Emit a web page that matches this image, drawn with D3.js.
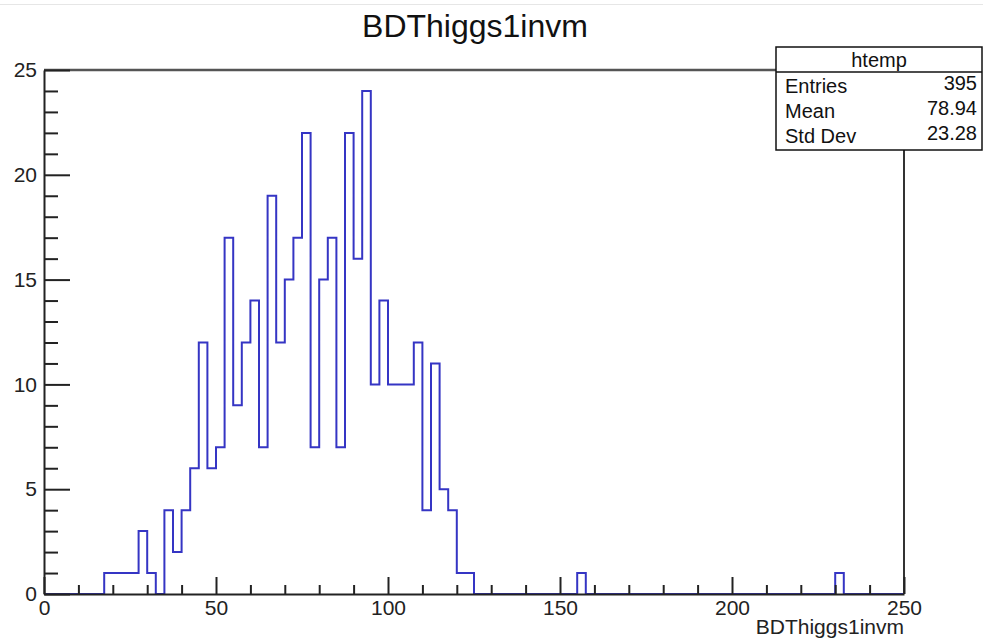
<!DOCTYPE html>
<html>
<head>
<meta charset="utf-8">
<script src="https://cdn.jsdelivr.net/npm/d3@7"></script>
<style>
  html, body { margin: 0; padding: 0; background: #fff; }
  svg { display: block; font-family: "Liberation Sans", Arial, Helvetica, sans-serif; }
</style>
</head>
<body>
<svg id="hist" width="983" height="644"></svg>
<script>
const MARGINTOP    = 70;
const MARGINRIGHT  = 79;
const MARGINBOTTOM = 50;
const MARGINLEFT   = 44;

const title = "BDThiggs1invm";
const xTitle = "BDThiggs1invm";
const histName = "htemp";
const xDomain = [0, 250];
const yDomain = [0, 25];
const binWidth = 2.5;
// one count per bin, 100 bins of 2.5 from 0 to 250
const counts = [
  0, 0, 0, 0, 0, 0, 0, 1, 1, 1,
  1, 3, 1, 0, 4, 2, 4, 6, 12, 6,
  7, 17, 9, 12, 14, 7, 19, 12, 15, 17,
  22, 7, 15, 17, 7, 22, 16, 24, 10, 14,
  10, 10, 10, 12, 4, 11, 5, 4, 1, 1,
  0, 0, 0, 0, 0, 0, 0, 0, 0, 0,
  0, 0, 1, 0, 0, 0, 0, 0, 0, 0,
  0, 0, 0, 0, 0, 0, 0, 0, 0, 0,
  0, 0, 0, 0, 0, 0, 0, 0, 0, 0,
  0, 0, 1, 0, 0, 0, 0, 0, 0, 0
];
const xMajor = [0, 50, 100, 150, 200, 250];
const yMajor = [0, 5, 10, 15, 20, 25];
const statLabels = ["Entries", "Mean", "Std Dev"];
const statValues = ["395", "78.94", "23.28"];

const W = 983, H = 644;
const FONT = "'Liberation Sans', Arial, Helvetica, sans-serif";
const vis = d3.select("#hist");

const xRange = d3.scaleLinear().domain(xDomain).range([MARGINLEFT, W - MARGINRIGHT]);
const yRange = d3.scaleLinear().domain(yDomain).range([H - MARGINBOTTOM, MARGINTOP]);

// faint window edge at the top
vis.append("line")
  .attr("x1", 0).attr("x2", W).attr("y1", 4.5).attr("y2", 4.5)
  .attr("stroke", "#e6e6e6").attr("stroke-width", 1);

// title
vis.append("text")
  .attr("x", 475).attr("y", 37)
  .attr("text-anchor", "middle")
  .attr("font-size", 32)
  .attr("fill", "#111")
  .text(title);

// histogram outline (steps)
const pts = [];
counts.forEach(function(c, i){
  const x0 = xDomain[0] + i * binWidth;
  pts.push([x0, c]);
  pts.push([x0 + binWidth, c]);
});
const stepLine = d3.line()
  .x(d => xRange(d[0]))
  .y(d => yRange(d[1]));
vis.append("path")
  .attr("d", stepLine(pts))
  .attr("fill", "none")
  .attr("stroke", "#3535c4")
  .attr("stroke-width", 2)
  .attr("stroke-linejoin", "miter");

// frame top & right
vis.append("line")
  .attr("x1", xRange(0)).attr("x2", xRange(250))
  .attr("y1", yRange(25)).attr("y2", yRange(25))
  .attr("stroke", "#555").attr("stroke-width", 2.5);
vis.append("line")
  .attr("x1", xRange(250)).attr("x2", xRange(250))
  .attr("y1", yRange(25)).attr("y2", yRange(0))
  .attr("stroke", "#333").attr("stroke-width", 2);

// y axis: minor ticks then major
const yMinor = d3.range(0, 26, 1).filter(v => v % 5 !== 0);
vis.append("g")
  .attr("transform", "translate(" + MARGINLEFT + ",0)")
  .call(d3.axisLeft(yRange).tickValues(yMinor).tickSizeInner(-14).tickSizeOuter(0).tickFormat(""))
  .call(g => g.select(".domain").remove());
const yAxisG = vis.append("g")
  .attr("transform", "translate(" + MARGINLEFT + ",0)")
  .call(d3.axisLeft(yRange).tickValues(yMajor).tickSizeInner(-26).tickSizeOuter(0).tickPadding(7));
yAxisG.selectAll("text").attr("font-size", 21).attr("fill", "#222")
  .attr("font-family", FONT);

// x axis: minor ticks then major
const xMinor = d3.range(0, 251, 10).filter(v => v % 50 !== 0);
vis.append("g")
  .attr("transform", "translate(0," + (H - MARGINBOTTOM) + ")")
  .call(d3.axisBottom(xRange).tickValues(xMinor).tickSizeInner(-9).tickSizeOuter(0).tickFormat(""))
  .call(g => g.select(".domain").remove());
const xAxisG = vis.append("g")
  .attr("transform", "translate(0," + (H - MARGINBOTTOM) + ")")
  .call(d3.axisBottom(xRange).tickValues(xMajor).tickSizeInner(-17).tickSizeOuter(0).tickPadding(6));
xAxisG.selectAll("text").attr("font-size", 21).attr("fill", "#222")
  .attr("font-family", FONT);

vis.selectAll(".tick line").attr("stroke", "#222").attr("stroke-width", 2);
vis.selectAll(".domain").attr("stroke", "#222").attr("stroke-width", 2);

// x axis title
vis.append("text")
  .attr("x", xRange(250)).attr("y", 634)
  .attr("text-anchor", "end")
  .attr("font-size", 21)
  .attr("fill", "#222")
  .text(xTitle);

// stats box
const bx = 776, by = 47, bw = 206, bh = 103, hh = 25;
const box = vis.append("g");
box.append("rect")
  .attr("x", bx).attr("y", by).attr("width", bw).attr("height", bh)
  .attr("fill", "#fff").attr("stroke", "#111").attr("stroke-width", 1.5);
box.append("line")
  .attr("x1", bx).attr("x2", bx + bw).attr("y1", by + hh).attr("y2", by + hh)
  .attr("stroke", "#111").attr("stroke-width", 1.5);
box.append("text")
  .attr("x", bx + bw / 2).attr("y", by + 20)
  .attr("text-anchor", "middle").attr("font-size", 20).attr("fill", "#111")
  .text(histName);
statLabels.forEach(function(lab, i){
  const yy = by + hh + 21 + i * 25;
  box.append("text")
    .attr("x", bx + 9).attr("y", yy)
    .attr("font-size", 20).attr("fill", "#111")
    .text(lab);
  box.append("text")
    .attr("x", bx + bw - 5).attr("y", yy - 3)
    .attr("text-anchor", "end")
    .attr("font-size", 20).attr("fill", "#111")
    .text(statValues[i]);
});
</script>
</body>
</html>
